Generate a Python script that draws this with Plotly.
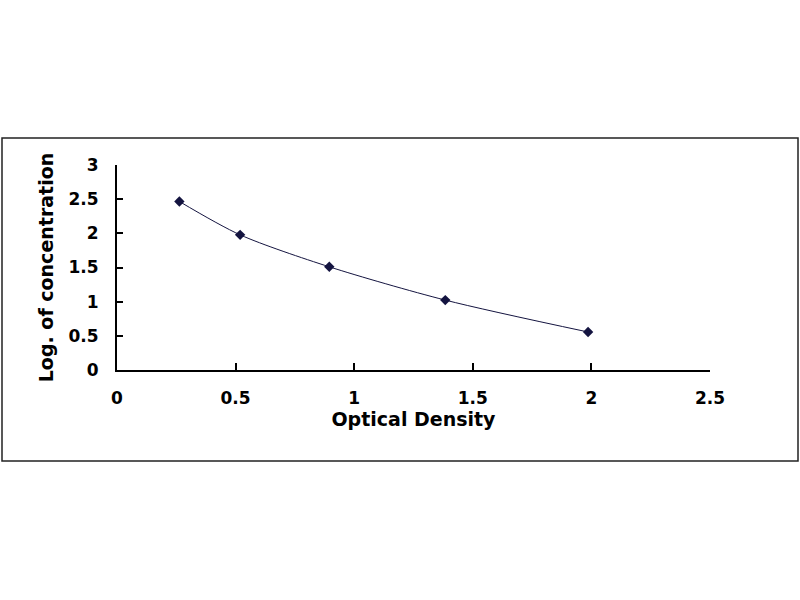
import plotly.graph_objects as go

# standard curve points
optical_density = [0.263, 0.519, 0.895, 1.384, 1.986]
log_concentration = [2.466, 1.978, 1.51, 1.023, 0.556]

x_ticks = [0, 0.5, 1, 1.5, 2, 2.5]
y_ticks = [0, 0.5, 1, 1.5, 2, 2.5, 3]

W, H = 800, 600
L, R, T, B = 117, 90, 165, 230
pw, ph = W - L - R, H - T - B

fig = go.Figure(go.Scatter(
    x=optical_density,
    y=log_concentration,
    mode='lines+markers',
    line=dict(color='#141440', width=1, shape='spline', smoothing=0.8),
    marker=dict(symbol='diamond', size=8, color='#141440'),
    showlegend=False,
))

tick_font = dict(family='DejaVu Sans', size=17, color='black', weight='bold')
title_font = dict(family='DejaVu Sans', size=19, color='black', weight='bold')

fig.update_layout(
    width=W, height=H,
    margin=dict(l=L, r=R, t=T, b=B, autoexpand=False),
    paper_bgcolor='white',
    plot_bgcolor='white',
    xaxis=dict(
        range=[0, 2.5], tickvals=x_ticks, ticktext=[f'{v:g}' for v in x_ticks],
        showgrid=False, zeroline=False, showline=True, linecolor='black', linewidth=2,
        ticks='inside', ticklen=7, tickwidth=2, tickcolor='black',
        ticklabelstandoff=12,
        tickfont=tick_font,
        title=dict(text='Optical Density', standoff=4, font=title_font),
    ),
    yaxis=dict(
        range=[0, 3], tickvals=y_ticks, ticktext=[f'{v:g}' for v in y_ticks],
        showgrid=False, zeroline=False, showline=True, linecolor='black', linewidth=2,
        ticks='inside', ticklen=6, tickwidth=2, tickcolor='black',
        ticklabelstandoff=13,
        tickfont=tick_font,
        title=dict(text='Log. of concentration', standoff=10, font=title_font),
    ),
    shapes=[dict(
        type='rect', xref='paper', yref='paper',
        x0=(2 - L) / pw, x1=(798 - L) / pw,
        y0=(H - B - 461) / ph, y1=(H - B - 138) / ph,
        line=dict(color='#222222', width=1.5),
        fillcolor='rgba(0,0,0,0)', layer='below',
    )],
)

fig.write_html("out.html", config={'displayModeBar': False},
               post_script="document.body.style.margin='0';")
